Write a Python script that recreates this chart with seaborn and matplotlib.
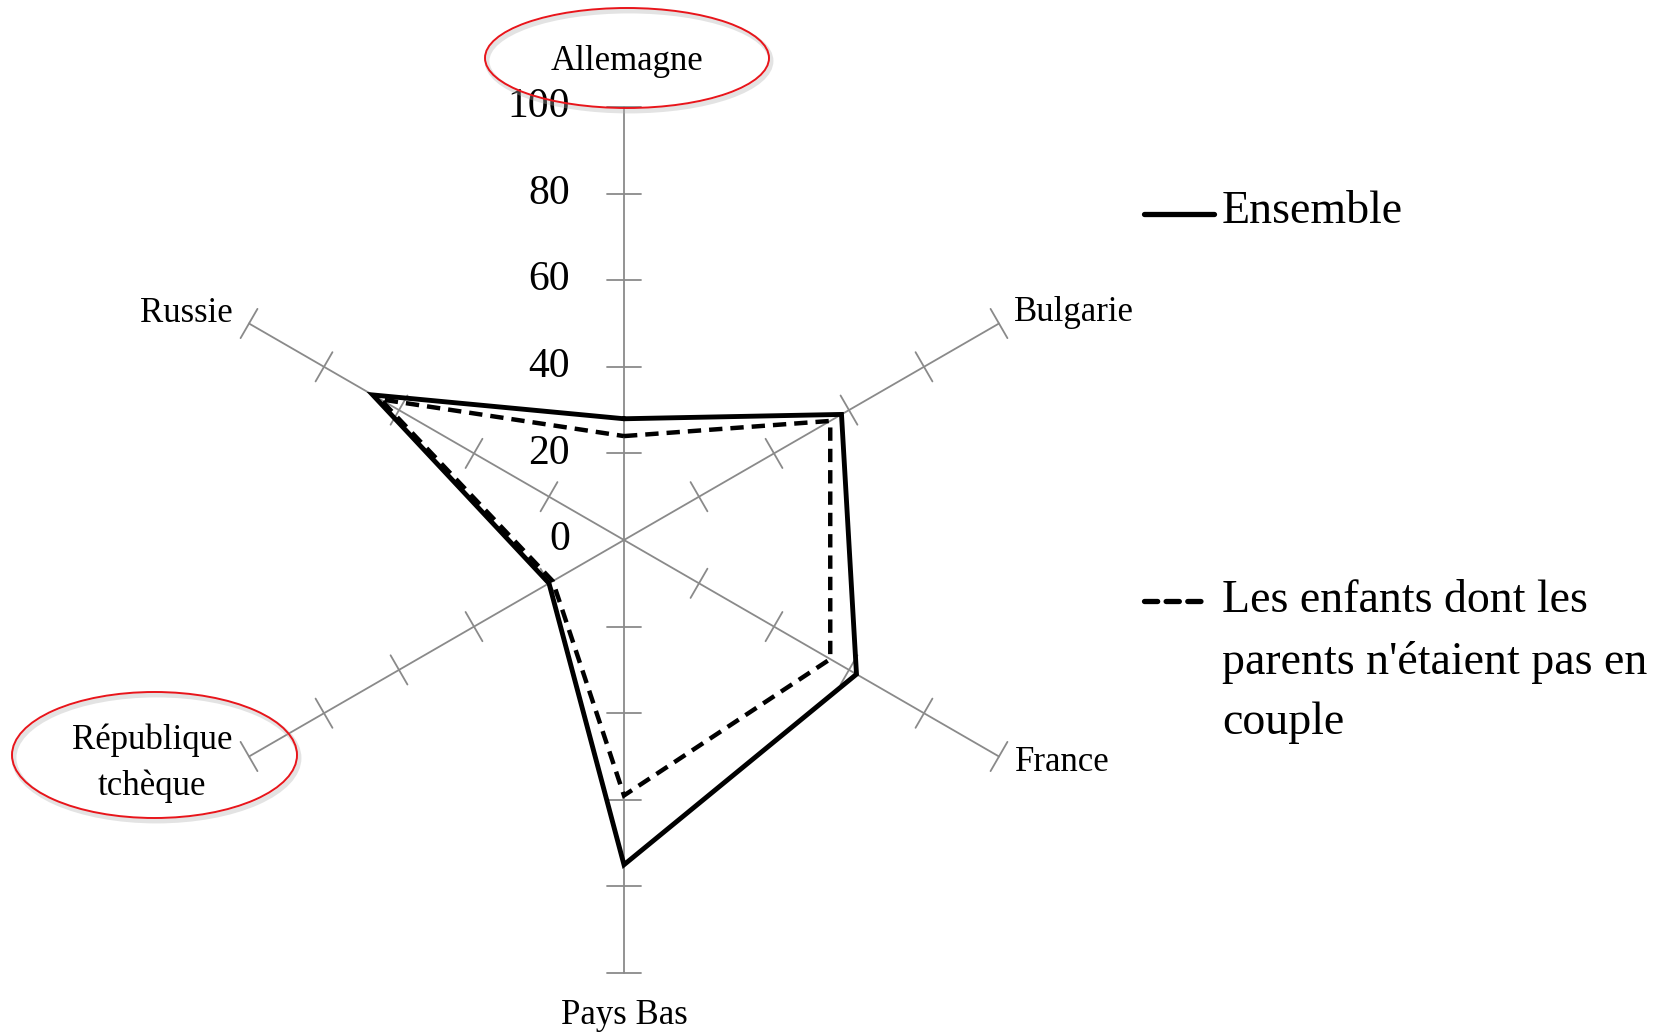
import numpy as np
import pandas as pd
import matplotlib
matplotlib.use("Agg")
import matplotlib.pyplot as plt
import seaborn as sns
from matplotlib.patches import Ellipse
from matplotlib.lines import Line2D

# === Données ===
pays = ["Allemagne", "Bulgarie", "France", "Pays Bas", "République\ntchèque", "Russie"]
ensemble = [28, 58, 62, 75, 20, 67]
hors_couple = [24, 55, 55, 59, 19, 65]
graduations = [0, 20, 40, 60, 80, 100]

legende_1 = "Ensemble"
legende_2 = "Les enfants dont les\nparents n'étaient pas en\ncouple"

# === Mise en page (pixels) ===
W, H = 1670, 1032
cx, cy, R = 624, 540, 433  # centre et rayon du radar

sns.set_theme(style="white")
plt.rcParams["font.family"] = ["Liberation Serif", "DejaVu Serif"]
plt.rcParams["text.color"] = "black"

fig = plt.figure(figsize=(W / 100, H / 100), dpi=100)
fig.patch.set_facecolor("white")
ax = fig.add_axes([(cx - R) / W, (H - cy - R) / H, 2 * R / W, 2 * R / H], projection="polar")
ax.set_theta_zero_location("N")
ax.set_theta_direction(-1)
ax.set_ylim(0, 100)
ax.grid(False)
ax.spines["polar"].set_visible(False)
ax.set_xticks([])
ax.set_yticks([])
ax.patch.set_alpha(0)

angles = np.linspace(0, 2 * np.pi, len(pays), endpoint=False)

# axes et graduations
gris = "#8a8a8a"
demi = 3.9
for a in angles:
    ax.plot([a, a], [0, 100], color=gris, lw=1.3, clip_on=False, zorder=1)
    for r in graduations[1:]:
        rr = np.hypot(r, demi)
        da = np.arctan2(demi, r)
        ax.plot([a - da, a + da], [rr, rr], color=gris, lw=1.3, clip_on=False, zorder=1)

# séries
df = pd.DataFrame({
    "angle": np.r_[angles, angles[0] + 2 * np.pi],
    "ensemble": ensemble + ensemble[:1],
    "hors_couple": hors_couple + hors_couple[:1],
})
sns.lineplot(data=df, x="angle", y="hors_couple", ax=ax, color="black", lw=3.2,
             linestyle=(0, (3.0, 1.8)), estimator=None, sort=False,
             dash_joinstyle="miter", zorder=3)
sns.lineplot(data=df, x="angle", y="ensemble", ax=ax, color="black", lw=3.5,
             estimator=None, sort=False, solid_joinstyle="miter", zorder=4)
ax.set_xlabel("")
ax.set_ylabel("")
ax.set_ylim(0, 100)

# étiquettes de l'échelle
for v in graduations:
    ax.annotate(str(v), xy=(0, v), xytext=(-54, 0), textcoords="offset pixels",
                ha="right", va="center", fontsize=30, color="black", annotation_clip=False)

# noms des pays
decalages = [(3, 45, "center"), (15, 11, "left"), (16, -6, "left"),
             (0, -42, "center"), (-97, -7, "center"), (-16, 10, "right")]
for a, nom, (dx, dy, ha) in zip(angles, pays, decalages):
    ax.annotate(nom, xy=(a, 100), xytext=(dx, dy), textcoords="offset pixels",
                ha=ha, va="center", fontsize=25, linespacing=1.5, color="black",
                multialignment="center", annotation_clip=False)

# ellipses rouges
for (ex, ey, ew, eh) in [(627, 58, 284, 100), (154.5, 755, 285, 126)]:
    ombre = Ellipse(((ex + 2) / W, 1 - (ey + 3) / H), ew / W, eh / H, transform=fig.transFigure,
                    fill=False, edgecolor="#b0b0b0", lw=3.5, alpha=0.35)
    fig.add_artist(ombre)
    fig.add_artist(Ellipse((ex / W, 1 - ey / H), ew / W, eh / H, transform=fig.transFigure,
                           fill=False, edgecolor="#e8151b", lw=1.4))

# légende
fig.add_artist(Line2D([1144 / W, 1214 / W], [1 - 214 / H, 1 - 214 / H], transform=fig.transFigure,
                      color="black", lw=3.8, solid_capstyle="round"))
fig.text(1222 / W, 1 - 212 / H, legende_1, ha="left", va="center", fontsize=33, color="black")
fig.add_artist(Line2D([1144 / W, 1206 / W], [1 - 601 / H, 1 - 601 / H], transform=fig.transFigure,
                      color="black", lw=3.8, linestyle=(0, (2.5, 1.6)), dash_capstyle="round"))
fig.text(1222 / W, 1 - 662 / H, legende_2, ha="left", va="center", fontsize=33,
         linespacing=1.55, color="black")

fig.savefig("out.png", dpi=100, facecolor="white")
